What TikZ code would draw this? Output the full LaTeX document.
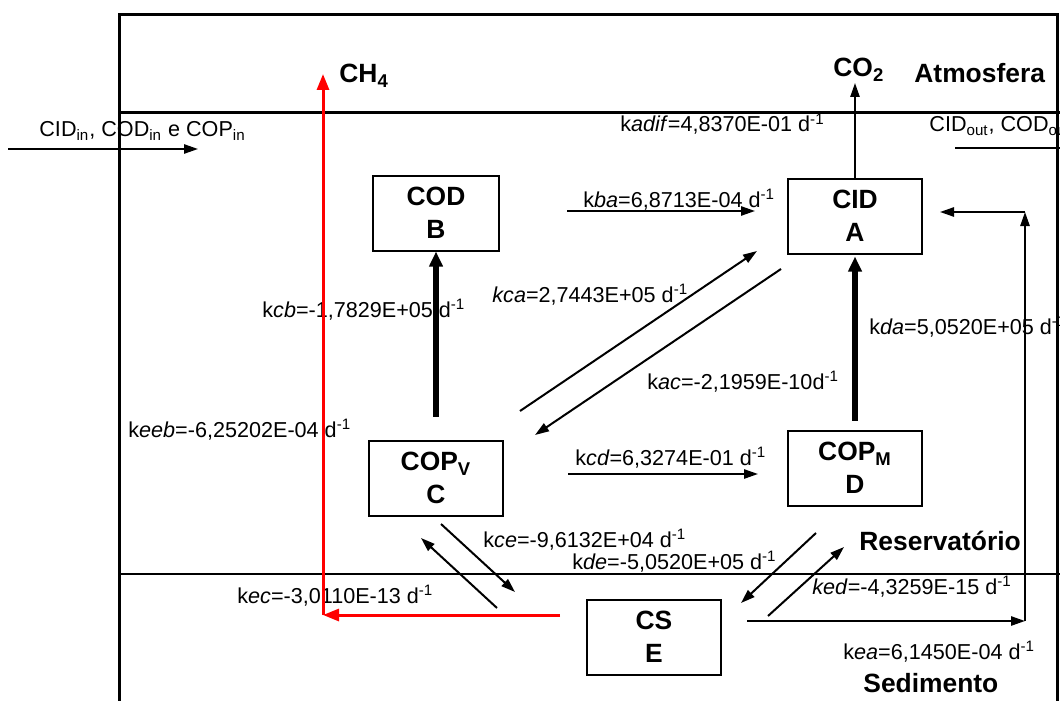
\documentclass[tikz,border=0pt]{standalone}
\usepackage{fontspec}
\setmainfont{Liberation Sans}
\usepackage{tikz}
\usetikzlibrary{arrows.meta}
\definecolor{methane}{HTML}{FF0000}

\begin{document}
\begin{tikzpicture}[x=0.5pt,y=-0.5pt,
  lbl/.style={font=\fontsize{10.8}{13}\selectfont,anchor=base west,inner sep=0pt},
  zone/.style={font=\fontsize{13.2}{16}\selectfont\bfseries,anchor=base west,inner sep=0pt},
  pool/.style={draw,line width=1pt,minimum width=67pt,minimum height=37.5pt,inner sep=0pt,
               align=center,font=\fontsize{13.2}{16.5}\selectfont\bfseries},
  flow/.style={line width=1pt,-{Triangle[length=7pt,width=4.6pt]}},
  bigflow/.style={line width=3pt,-{Triangle[length=7.5pt,width=6.5pt]}},
  redflow/.style={draw=methane,line width=1.5pt,-{Triangle[length=8pt,width=6pt]}},
  bound/.style={line width=1.5pt}]
  \useasboundingbox (0,0) rectangle (1060,701);
  \clip (0,0) rectangle (1060,701);
  \fill[white] (0,0) rectangle (1060,701);

  % compartments
  \draw[bound] (119,720) -- (119,15) -- (1057,15) -- (1057,720);
  \draw[bound] (119,113) -- (1065,113);
  \draw[line width=1.2pt] (119,574) -- (1065,574);

  % pools
  \node[pool] (A) at (855,216) {CID\\A};
  \node[pool,minimum width=63pt] (B) at (436,213) {COD\\B};
  \node[pool] (C) at (436,478) {COP\textsubscript{V}\\C};
  \node[pool] (D) at (855,468) {COP\textsubscript{M}\\D};
  \node[pool] (E) at (654,637) {CS\\E};

  % zone and gas names
  \node[zone] (ch4)  at (339,83)  {CH\textsubscript{4}};
  \node[zone] (co2)  at (833,77)  {CO\textsubscript{2}};
  \node[zone] (atm)  at (914,83)  {Atmosfera};
  \node[zone] (res)  at (859,550) {Reservatório};
  \node[zone] (sed)  at (863,692) {Sedimento};

  % rates
  \node[lbl] (lin)   at (39,137)  {CID\textsubscript{in}, COD\textsubscript{in} e COP\textsubscript{in}};
  \node[lbl] (lout)  at (929,132) {CID\textsubscript{out}, COD\textsubscript{out} e COP\textsubscript{out}};
  \node[lbl] (ladif) at (620,132) {k\textit{adif}=4,8370E-01 d\textsuperscript{-1}};
  \node[lbl] (lba)   at (583,207) {k\textit{ba}=6,8713E-04 d\textsuperscript{-1}};
  \node[lbl] (lcb)   at (262,317) {k\textit{cb}=-1,7829E+05 d\textsuperscript{-1}};
  \node[lbl] (lca)   at (492,302) {\textit{kca}=2,7443E+05 d\textsuperscript{-1}};
  \node[lbl] (lac)   at (647,389) {k\textit{ac}=-2,1959E-10d\textsuperscript{-1}};
  \node[lbl] (lda)   at (869,334) {k\textit{da}=5,0520E+05 d\textsuperscript{-1}};
  \node[lbl] (leeb)  at (128,437) {k\textit{eeb}=-6,25202E-04 d\textsuperscript{-1}};
  \node[lbl] (lcd)   at (575,465) {k\textit{cd}=6,3274E-01 d\textsuperscript{-1}};
  \node[lbl] (lce)   at (483,547) {k\textit{ce}=-9,6132E+04 d\textsuperscript{-1}};
  \node[lbl] (lde)   at (572,569) {k\textit{de}=-5,0520E+05 d\textsuperscript{-1}};
  \node[lbl] (led)   at (812,594) {\textit{ked}=-4,3259E-15 d\textsuperscript{-1}};
  \node[lbl] (lec)   at (237,603) {k\textit{ec}=-3,0110E-13 d\textsuperscript{-1}};
  \node[lbl] (lea)   at (843,659) {k\textit{ea}=6,1450E-04 d\textsuperscript{-1}};

  % arrow ends
  \coordinate (in0) at (8,149);   \coordinate (in1) at (198,149);
  \coordinate (out0) at (955,148); \coordinate (out1) at (1075,148);
  \coordinate (dif) at (855,83);
  \coordinate (ba0) at (567,211); \coordinate (ba1) at (755,211);
  \coordinate (ca0) at (520,411); \coordinate (ca1) at (757,251);
  \coordinate (ac0) at (781,269); \coordinate (ac1) at (535,435);
  \coordinate (cd0) at (568,474); \coordinate (cd1) at (758,474);
  \coordinate (ce0) at (441,524); \coordinate (ce1) at (515,592);
  \coordinate (ec0) at (497,608); \coordinate (ec1) at (421,538);
  \coordinate (de0) at (816,533); \coordinate (de1) at (741,603);
  \coordinate (ed0) at (768,616); \coordinate (ed1) at (844,547);
  \coordinate (ea0) at (747,621); \coordinate (ea1) at (1025,621);
  \coordinate (ea2) at (1025,212); \coordinate (ea3) at (940,212);
  \coordinate (me0) at (560,615); \coordinate (me1) at (323,615);
  \coordinate (me2) at (323,74);

  \foreach \p/\q in {in0/in1,A/dif,ba0/ba1,ca0/ca1,ac0/ac1,cd0/cd1,ce0/ce1,
                     ec0/ec1,de0/de1,ed0/ed1,ea0/ea1,ea1/ea2,ea2/ea3}
    \draw[flow] (\p) -- (\q);
  \draw[line width=1pt] (out0) -- (out1);

  \draw[bigflow,shorten <=11.5pt] (C) -- (B);
  \draw[bigflow,shorten <=4.5pt,shorten >=1pt] (D) -- (A);

  % methane
  \draw[redflow] (me0) -- (me1);
  \draw[redflow] (me1) -- (me2);
\end{tikzpicture}
\end{document}
